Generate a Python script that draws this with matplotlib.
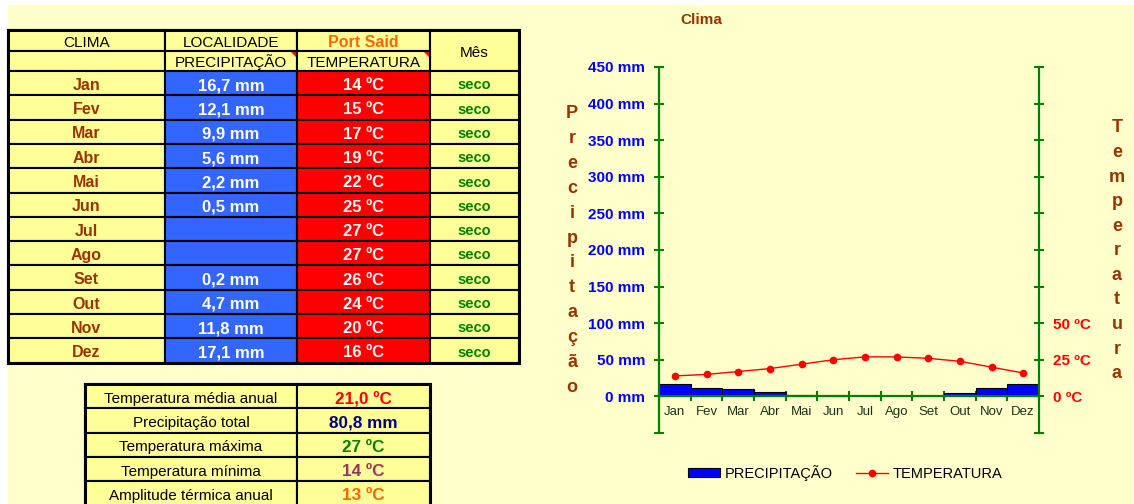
import matplotlib
matplotlib.use("Agg")
import matplotlib.pyplot as plt
from matplotlib.patches import Rectangle, Polygon, Patch
from matplotlib.lines import Line2D
import numpy as np

plt.rcParams["font.family"] = ["Liberation Sans", "DejaVu Sans"]

# ---- data -------------------------------------------------------------
place = "Port Said"
months = ["Jan", "Fev", "Mar", "Abr", "Mai", "Jun",
          "Jul", "Ago", "Set", "Out", "Nov", "Dez"]
precip_mm = [16.7, 12.1, 9.9, 5.6, 2.2, 0.5, None, None, 0.2, 4.7, 11.8, 17.1]
temp_c = [14, 15, 17, 19, 22, 25, 27, 27, 26, 24, 20, 16]
month_type = ["seco"] * 12
precip_ticks = list(range(-50, 451, 50))
temp_ticks = list(range(-25, 226, 25))
temp_labelled = [0, 25, 50]

# ---- colours ----------------------------------------------------------
PAGE = "#FFFFCC"
CELL = "#FFFF99"
BLUE_CELL = "#3366FF"
RED_CELL = "#FF0000"
BROWN = "#993300"
GREEN = "#008000"
AXIS_GREEN = "#008000"


def pt(v):
    return ("%.1f" % v).replace(".", ",")


W, H = 1134, 504
fig = plt.figure(figsize=(W / 100, H / 100), dpi=100)
fig.patch.set_facecolor("white")

page = fig.add_axes([0, 0, 1, 1])
page.set_xlim(0, W)
page.set_ylim(H, 0)
page.axis("off")
page.add_patch(Rectangle((8, 5), W - 8, H - 5, facecolor=PAGE, edgecolor="none", zorder=0))


def cell(x0, x1, y0, y1, fill, text="", color="black", size=11, weight="normal", lw=1.5):
    page.add_patch(Rectangle((x0, y0), x1 - x0, y1 - y0, facecolor=fill,
                             edgecolor="black", linewidth=lw, zorder=1))
    if text:
        cap = 0.716 * size * 100 / 72
        page.text((x0 + x1) / 2, (y0 + y1) / 2 + cap / 2 + 1, text, ha="center",
                  va="baseline", color=color, fontsize=size, fontweight=weight, zorder=3)


def comment_mark(x1, y0):
    page.add_patch(Polygon([(x1 - 6, y0 + 1), (x1 - 1, y0 + 1), (x1 - 1, y0 + 6)],
                           closed=True, facecolor="red", edgecolor="none", zorder=4))


# ---- monthly table ----------------------------------------------------
cols = [8, 165, 297, 430, 519]
r0, r1, r2 = 30, 51, 71
rh = 24.3

cell(cols[0], cols[1], r0, r1, CELL, "CLIMA")
cell(cols[1], cols[2], r0, r1, CELL, "LOCALIDADE")
cell(cols[2], cols[3], r0, r1, CELL, place, color="#FF6600", size=11.5, weight="bold")
cell(cols[3], cols[4], r0, r2, CELL, "Mês")
cell(cols[0], cols[1], r1, r2, CELL)
cell(cols[1], cols[2], r1, r2, CELL, "PRECIPITAÇÃO")
cell(cols[2], cols[3], r1, r2, CELL, "TEMPERATURA")
comment_mark(cols[2], r1)
comment_mark(cols[3], r1)

for i, m in enumerate(months):
    y0 = r2 + i * rh
    y1 = y0 + rh
    p = precip_mm[i]
    cell(cols[0], cols[1], y0, y1, CELL, m, color=BROWN, size=11.5, weight="bold")
    cell(cols[1], cols[2], y0, y1, BLUE_CELL, "" if p is None else pt(p) + " mm",
         color="white", size=12, weight="bold")
    cell(cols[2], cols[3], y0, y1, RED_CELL, "%d ºC" % temp_c[i],
         color="white", size=12, weight="bold")
    cell(cols[3], cols[4], y0, y1, CELL, month_type[i], color=GREEN, size=10.5, weight="bold")

page.add_patch(Rectangle((cols[0], r0), cols[-1] - cols[0], r2 + 12 * rh - r0,
                         facecolor="none", edgecolor="black", linewidth=2.2, zorder=5))

# ---- summary table ----------------------------------------------------
rain = [v for v in precip_mm if v is not None]
summary = [
    ("Temperatura média anual", pt(np.mean(temp_c)) + " ºC", "#FF0000"),
    ("Precipitação total", pt(sum(rain)) + " mm", "#000080"),
    ("Temperatura máxima", "%d ºC" % max(temp_c), "#008000"),
    ("Temperatura mínima", "%d ºC" % min(temp_c), "#993366"),
    ("Amplitude térmica anual", "%d ºC" % (max(temp_c) - min(temp_c)), "#FF6600"),
]
scol = [85, 297, 430]
s0 = 384
for i, (name, val, c) in enumerate(summary):
    y0 = s0 + i * rh
    cell(scol[0], scol[1], y0, y0 + rh, CELL, name, size=11)
    cell(scol[1], scol[2], y0, y0 + rh, CELL, val, color=c, size=12.3, weight="bold")
page.add_patch(Rectangle((scol[0], s0), scol[-1] - scol[0], 5 * rh + 2,
                         facecolor="none", edgecolor="black", linewidth=2.2, zorder=5))

# ---- climate chart ----------------------------------------------------
page.text(701, 20, "Clima", ha="center", va="center", color=BROWN,
          fontsize=11, fontweight="bold")

ax = fig.add_axes([659 / W, 1 - 433 / H, 380 / W, 366 / H])
ax.patch.set_visible(False)
xc = np.arange(len(months)) + 0.5
idx = [i for i, v in enumerate(precip_mm) if v is not None]
ax.bar(xc[idx], [precip_mm[i] for i in idx], width=1.0, color="#0000FF",
       edgecolor="black", linewidth=0.8, zorder=2)
ax.set_xlim(0, len(months))
ax.set_ylim(precip_ticks[0], precip_ticks[-1])

for s in ("top", "right"):
    ax.spines[s].set_visible(False)
ax.spines["left"].set_color(AXIS_GREEN)
ax.spines["left"].set_linewidth(1.6)
ax.spines["bottom"].set_position(("data", 0))
ax.spines["bottom"].set_color(AXIS_GREEN)
ax.spines["bottom"].set_linewidth(1.6)
ax.spines["bottom"].set_zorder(3)

ax.set_yticks(precip_ticks,
              ["%d mm" % v if v >= 0 else "" for v in precip_ticks],
              fontweight="bold", fontsize=11)
ax.tick_params(axis="y", direction="inout", length=7, width=1.5,
               color=AXIS_GREEN, labelcolor="#0000FF", pad=6.5)

ax.set_xticks(xc, months, fontsize=9.5)
ax.set_xticks(np.arange(len(months) + 1), minor=True)
ax.tick_params(axis="x", which="major", length=0, pad=7, labelcolor="#1A331A")
ax.tick_params(axis="x", which="minor", direction="inout", length=7, width=1.5,
               color=AXIS_GREEN)

ax2 = ax.twinx()
ax2.set_ylim(temp_ticks[0], temp_ticks[-1])
for s in ("top", "left", "bottom"):
    ax2.spines[s].set_visible(False)
ax2.spines["right"].set_color(AXIS_GREEN)
ax2.spines["right"].set_linewidth(1.6)
ax2.plot(xc, temp_c, color="#FF0000", marker="o", markersize=4.5, linewidth=1.0)
ax2.set_yticks(temp_ticks,
               ["%d ºC" % v if v in temp_labelled else "" for v in temp_ticks],
               fontweight="bold", fontsize=11)
ax2.tick_params(axis="y", direction="inout", length=7, width=1.5,
                color=AXIS_GREEN, labelcolor="#FF0000", pad=6.5)

# stacked axis titles
for k, ch in enumerate("Precipitação"):
    page.text(572, 118.3 + k * 24.85, ch, ha="center", va="baseline",
              color=BROWN, fontsize=13, fontweight="bold")
for k, ch in enumerate("Temperatura"):
    page.text(1117, 132.3 + k * 24.6, ch, ha="center", va="baseline",
              color=BROWN, fontsize=13, fontweight="bold")

handles = [Patch(facecolor="#0000FF", edgecolor="black", linewidth=0.8),
           Line2D([], [], color="#FF0000", marker="o", markersize=4.5, linewidth=1.0)]
fig.legend(handles, ["PRECIPITAÇÃO", "TEMPERATURA"], loc="center",
           bbox_to_anchor=(845 / W, 1 - 473 / H), ncol=2, frameon=False,
           fontsize=10.5, handlelength=2.2, handleheight=0.55,
           handletextpad=0.3, columnspacing=1.6)

fig.savefig("out.png", dpi=100, facecolor=fig.get_facecolor())
